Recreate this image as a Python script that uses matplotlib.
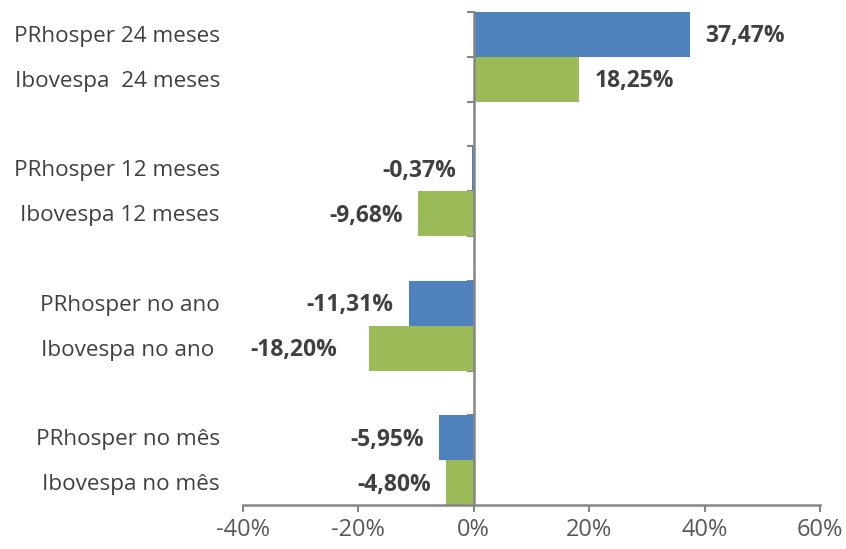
import matplotlib
matplotlib.use("Agg")
import matplotlib.pyplot as plt
import matplotlib.transforms as mtransforms

# data (percent)
categories = ["PRhosper 24 meses", "Ibovespa  24 meses",
              "PRhosper 12 meses", "Ibovespa 12 meses",
              "PRhosper no ano", "Ibovespa no ano ",
              "PRhosper no mês", "Ibovespa no mês"]
values = [37.47, 18.25, -0.37, -9.68, -11.31, -18.20, -5.95, -4.80]
value_labels = ["37,47%", "18,25%", "-0,37%", "-9,68%",
                "-11,31%", "-18,20%", "-5,95%", "-4,80%"]
xticks = [-40, -20, 0, 20, 40, 60]

BLUE = "#4F81BD"
GREEN = "#9BBB59"
AXIS = "#868686"
TXT = "#404040"

plt.rcParams['font.family'] = ['Open Sans', 'DejaVu Sans']

fig = plt.figure(figsize=(8.46, 5.49), dpi=100)
ax = fig.add_axes([243/846, 1 - 505/549, (820 - 243)/846, (505 - 12)/549])

# two bars per group, one empty slot between groups
pos = [3 * (i // 2) + (i % 2) for i in range(len(values))]
colors = [BLUE if i % 2 == 0 else GREEN for i in range(len(values))]
ax.barh(pos, values, height=1.0, color=colors, edgecolor="none", zorder=2)

ax.set_xlim(-40, 60)
ax.set_ylim(10.5, -0.5)
ax.set_xticks(xticks)
ax.set_xticklabels([f"{t}%" for t in xticks], fontsize=17, color="#595959")

ax.spines['top'].set_visible(False)
ax.spines['right'].set_visible(False)
ax.spines['left'].set_position(('data', 0))
for s in ('left', 'bottom'):
    ax.spines[s].set_color(AXIS)
    ax.spines[s].set_linewidth(1.8)
    ax.spines[s].set_zorder(3)

ax.set_yticks([y - 0.5 for y in range(12)])
ax.set_yticklabels([])
ax.tick_params(axis='both', direction='out', length=5, width=1.5, color=AXIS)
ax.tick_params(axis='x', pad=4)

# category labels on the far left (nudged down a bit)
down = mtransforms.ScaledTranslation(0, -1.5 / 72, fig.dpi_scale_trans)
trans = mtransforms.blended_transform_factory(ax.transAxes, ax.transData) + down
for p, c in zip(pos, categories):
    ax.text(-0.04, p, c, transform=trans, ha='right', va='center',
            fontsize=16.2, color=TXT)

# value labels
extra = {5: 12}
for i, (p, v, lab) in enumerate(zip(pos, values, value_labels)):
    off = 11 + extra.get(i, 0)
    if v >= 0:
        ax.annotate(lab, (v, p), xytext=(off, -1.5), textcoords='offset points',
                    ha='left', va='center', fontsize=16.5, fontweight='bold', color=TXT)
    else:
        ax.annotate(lab, (v, p), xytext=(-off, -1.5), textcoords='offset points',
                    ha='right', va='center', fontsize=16.5, fontweight='bold', color=TXT)

fig.savefig("out.png", dpi=100)
